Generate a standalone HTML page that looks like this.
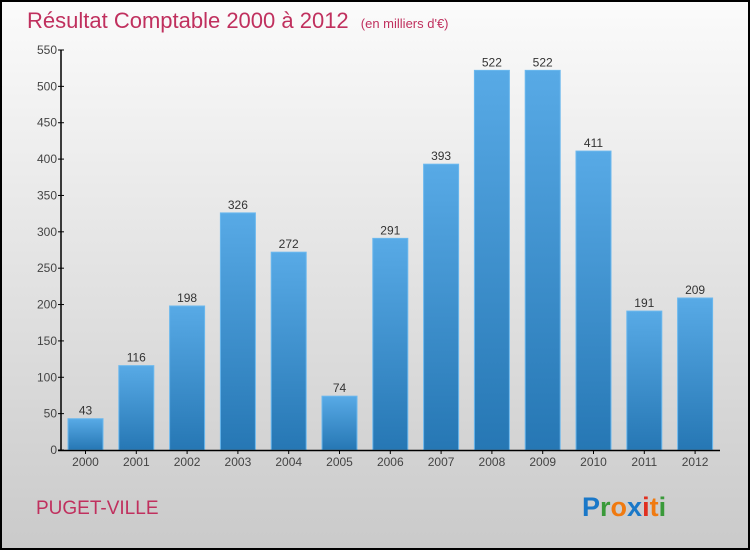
<!DOCTYPE html>
<html><head><meta charset="utf-8"><style>
body{margin:0;width:750px;height:550px;overflow:hidden}
svg{display:block}
text{font-family:"Liberation Sans",sans-serif}
</style></head><body>
<svg id="chart" width="750" height="550">
<defs>
<linearGradient id="bg" x1="0" y1="0" x2="0" y2="1"><stop offset="0" stop-color="#fbfbfb"/><stop offset="1" stop-color="#cacaca"/></linearGradient>
<linearGradient id="bar" x1="0" y1="0" x2="0" y2="1"><stop offset="0" stop-color="#58aae6"/><stop offset="1" stop-color="#2677b4"/></linearGradient>
</defs>
<rect x="1" y="1" width="748" height="548" fill="url(#bg)" stroke="#000" stroke-width="2"/>
<text x="27" y="28" font-size="22" fill="#c0305e">Résultat Comptable 2000 à 2012 <tspan font-size="13" dx="6">(en milliers d'€)</tspan></text>
<text x="36" y="514" font-size="19" fill="#c0305e">PUGET-VILLE</text>
<text x="582" y="516" font-size="27" font-weight="bold"><tspan fill="#1a78c8">P</tspan><tspan fill="#3a9a3a">r</tspan><tspan fill="#f07a10">o</tspan><tspan fill="#1a78c8">x</tspan><tspan fill="#e03020">i</tspan><tspan fill="#f07a10">t</tspan><tspan fill="#3a9a3a">i</tspan></text>
<g id="plot"></g>
</svg>
<script>
const years=["2000","2001","2002","2003","2004","2005","2006","2007","2008","2009","2010","2011","2012"];
const values=[43,116,198,326,272,74,291,393,522,522,411,191,209];
const ticks=[0,50,100,150,200,250,300,350,400,450,500,550];
const NS="http://www.w3.org/2000/svg";
const g=document.getElementById('plot');
const y=v=>450-v*400/550;
const x=i=>68+i*50.8;
function mk(t,a,txt){const e=document.createElementNS(NS,t);for(const k in a)e.setAttribute(k,a[k]);if(txt!==undefined)e.textContent=txt;g.appendChild(e);return e;}
ticks.forEach(t=>{
 const l=mk('line',{x1:58,x2:64,y1:y(t),y2:y(t),stroke:'#000'});
 
 
 const tx=mk('text',{x:57,y:y(t)+4,'font-size':12,fill:'#444','text-anchor':'end'},t);
 
 
});
values.forEach((v,i)=>{
 const r=mk('rect',{x:x(i),y:y(v),width:35,height:450-y(v),fill:'url(#bar)',stroke:'#6bb8ee','stroke-width':1});
 
 
 const lb=mk('text',{x:x(i)+17.5,y:y(v)-4,'font-size':12,fill:'#333','text-anchor':'middle'},v);
 
 
 const tk=mk('line',{x1:x(i)+17.5,x2:x(i)+17.5,y1:450,y2:454,stroke:'#000'});
 
 
 const xl=mk('text',{x:x(i)+17.5,y:466,'font-size':12,fill:'#444','text-anchor':'middle'},years[i]);
 
 
});
const ya=mk('line',{x1:61,x2:61,y1:50,y2:451,stroke:'#000','stroke-width':1.5});


const xa=mk('line',{x1:58,x2:720,y1:450.5,y2:450.5,stroke:'#000','stroke-width':1.5});


</script>
</body></html>
